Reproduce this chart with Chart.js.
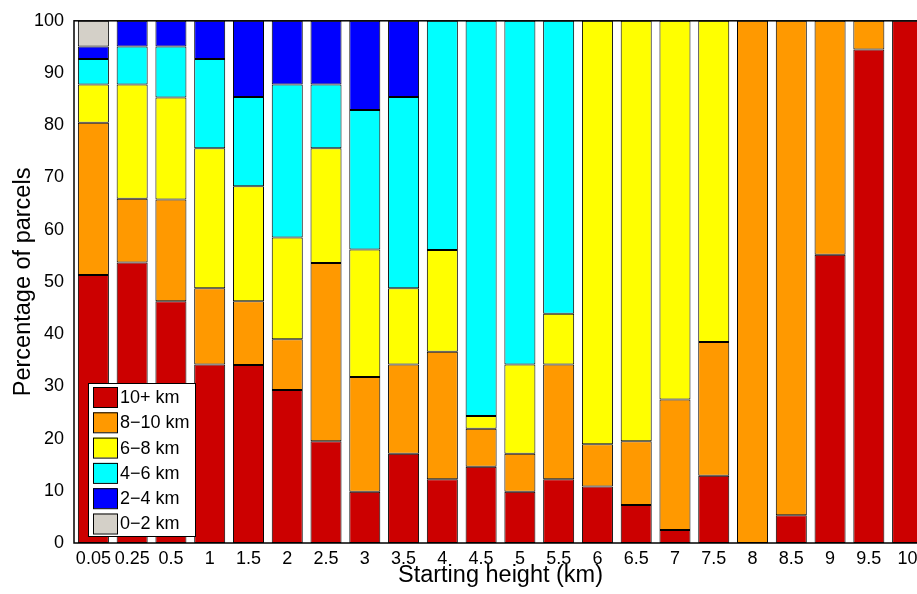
<!DOCTYPE html>
<html>
<head>
<meta charset="utf-8">
<script src="https://cdn.jsdelivr.net/npm/chart.js@4"></script>
<style>
  html, body { margin: 0; padding: 0; background: #fff; overflow: hidden; }
  #wrap { width: 930px; height: 594px; }
</style>
</head>
<body>
<div id="wrap"><canvas id="chart" width="930" height="594"></canvas></div>
<script>
const FONT = '"Liberation Sans", Arial, Helvetica, sans-serif';

const heights = ['0.05', '0.25', '0.5', '1', '1.5', '2', '2.5', '3', '3.5', '4', '4.5',
  '5', '5.5', '6', '6.5', '7', '7.5', '8', '8.5', '9', '9.5', '10'];

const km10plus = [51.3, 53.7, 46.3, 34.2, 34.1, 29.3, 19.5, 9.8, 17.1, 12.2, 14.6,
  9.8, 12.2, 10.8, 7.3, 2.5, 12.9, 0, 5.3, 55.2, 94.5, 100];
const km8to10 = [29.2, 12.2, 19.5, 14.6, 12.2, 9.7, 34.1, 22.0, 17.1, 24.4, 7.3,
  7.3, 22.0, 8.1, 12.2, 25.0, 25.6, 100, 94.7, 44.8, 5.5, 0];
const km6to8 = [7.3, 21.9, 19.5, 26.8, 22.0, 19.5, 22.0, 24.4, 14.6, 19.5, 2.4,
  17.1, 9.7, 81.1, 80.5, 72.5, 61.5, 0, 0, 0, 0, 0];
const km4to6 = [4.9, 7.3, 9.8, 17.1, 17.1, 29.3, 12.2, 26.7, 36.6, 43.9, 75.7,
  65.8, 56.1, 0, 0, 0, 0, 0, 0, 0, 0, 0];
const km2to4 = [2.4, 4.9, 4.9, 7.3, 14.6, 12.2, 12.2, 17.1, 14.6, 0, 0,
  0, 0, 0, 0, 0, 0, 0, 0, 0, 0, 0];
const km0to2 = [4.9, 0, 0, 0, 0, 0, 0, 0, 0, 0, 0,
  0, 0, 0, 0, 0, 0, 0, 0, 0, 0, 0];

const yTicks = [0, 10, 20, 30, 40, 50, 60, 70, 80, 90, 100];

const SERIES = [
  { label: '10+ km', data: km10plus, color: '#cc0000' },
  { label: '8\u221210 km', data: km8to10, color: '#ff9900' },
  { label: '6\u22128 km', data: km6to8, color: '#ffff00' },
  { label: '4\u22126 km', data: km4to6, color: '#00ffff' },
  { label: '2\u22124 km', data: km2to4, color: '#0000ff' },
  { label: '0\u22122 km', data: km0to2, color: '#d4d0c8' },
];

// frame around the plot area + legend box inside lower left
const framePlugin = {
  id: 'frame',
  afterDraw(chart) {
    const { ctx, chartArea: a } = chart;
    ctx.save();
    ctx.strokeStyle = '#000';
    ctx.lineWidth = 1.5;
    ctx.strokeRect(a.left, a.top, a.right - a.left, a.bottom - a.top);

    const bx = a.left + 14, by = a.bottom - 160, bw = 107, bh = 153;
    ctx.fillStyle = '#fff';
    ctx.fillRect(bx, by, bw, bh);
    ctx.lineWidth = 1;
    ctx.strokeRect(bx + 0.5, by + 0.5, bw, bh);
    ctx.font = '18px ' + FONT;
    ctx.textBaseline = 'middle';
    chart.data.datasets.forEach((ds, i) => {
      const sy = by + 4 + i * 25.3;
      ctx.fillStyle = ds.backgroundColor;
      ctx.fillRect(bx + 5, sy, 24, 20);
      ctx.strokeStyle = '#000';
      ctx.strokeRect(bx + 5.5, sy + 0.5, 24, 20);
      ctx.fillStyle = '#000';
      ctx.fillText(ds.label, bx + 32, sy + 11);
    });
    ctx.restore();
  },
};

new Chart(document.getElementById('chart'), {
  type: 'bar',
  data: {
    labels: heights,
    datasets: SERIES.map(s => ({
      label: s.label,
      data: s.data,
      backgroundColor: s.color,
      borderColor: '#000',
      borderWidth: 1,
      borderSkipped: false,
      barPercentage: 0.8,
      categoryPercentage: 1.0,
    })),
  },
  options: {
    responsive: false,
    animation: false,
    layout: { padding: { top: 14, right: 3, left: 0, bottom: 0 } },
    plugins: {
      legend: { display: false },
      tooltip: { enabled: false },
    },
    scales: {
      x: {
        stacked: true,
        grid: { display: false, drawTicks: false },
        border: { display: false },
        ticks: {
          color: '#000',
          font: { family: FONT, size: 18 },
          padding: 5,
          maxRotation: 0,
          autoSkip: false,
        },
        title: {
          display: true,
          text: 'Starting height (km)',
          color: '#000',
          font: { family: FONT, size: 23.5 },
          padding: { top: 0, bottom: 4 },
        },
        afterFit(scale) { scale.height = 51; },
      },
      y: {
        stacked: true,
        min: 0,
        max: 100,
        grid: { display: false, drawTicks: false },
        border: { display: false },
        afterBuildTicks(scale) { scale.ticks = yTicks.map(v => ({ value: v })); },
        ticks: {
          color: '#000',
          font: { family: FONT, size: 18 },
          padding: 10,
        },
        title: {
          display: true,
          text: 'Percentage of parcels',
          color: '#000',
          font: { family: FONT, size: 23.5 },
          padding: { top: 9, bottom: 0 },
        },
        afterFit(scale) { scale.width = 74; },
      },
    },
  },
  plugins: [framePlugin],
});
</script>
</body>
</html>
